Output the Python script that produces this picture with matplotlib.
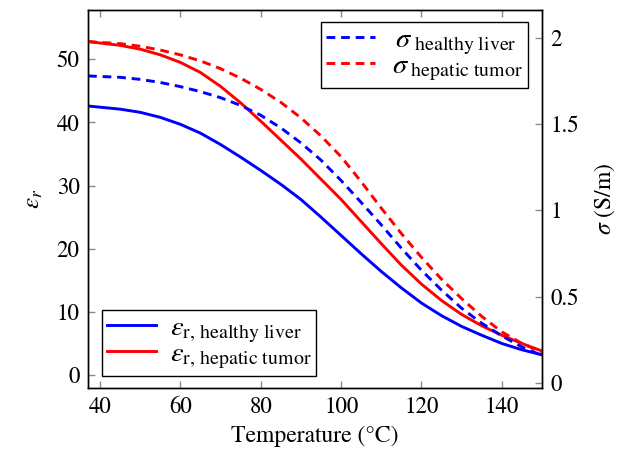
import matplotlib
matplotlib.use("Agg")
import matplotlib.pyplot as plt

plt.rcParams['font.family'] = ['STIXGeneral', 'DejaVu Serif']
plt.rcParams['mathtext.fontset'] = 'stix'

temperature = [37, 45, 50, 55, 60, 65, 70, 75, 80, 85, 90, 95, 100,
               105, 110, 115, 120, 125, 130, 135, 140, 145, 150]

eps_healthy = [42.6, 42.1, 41.6, 40.8, 39.7, 38.3, 36.5, 34.5, 32.4, 30.2, 27.8, 25.0, 22.1,
               19.2, 16.4, 13.8, 11.4, 9.4, 7.7, 6.3, 5.0, 4.0, 3.2]
eps_tumor = [52.8, 52.2, 51.6, 50.7, 49.5, 47.9, 45.7, 43.1, 40.2, 37.2, 34.2, 31.0, 27.8,
             24.3, 20.8, 17.4, 14.4, 11.8, 9.6, 7.8, 6.3, 5.0, 3.8]
sigma_healthy = [1.778, 1.770, 1.758, 1.740, 1.716, 1.687, 1.652, 1.607, 1.550, 1.477, 1.390, 1.290, 1.172,
                 1.045, 0.915, 0.780, 0.652, 0.537, 0.432, 0.345, 0.272, 0.208, 0.158]
sigma_tumor = [1.977, 1.965, 1.950, 1.928, 1.900, 1.865, 1.820, 1.765, 1.700, 1.625, 1.535, 1.430, 1.310,
               1.165, 1.012, 0.865, 0.727, 0.600, 0.488, 0.385, 0.295, 0.228, 0.178]

x_ticks = [40, 60, 80, 100, 120, 140]
eps_ticks = [0, 10, 20, 30, 40, 50]
sigma_ticks = [0, 0.5, 1, 1.5, 2]
sigma_tick_labels = ["0", "0.5", "1", "1.5", "2"]

fig = plt.figure(figsize=(6.26, 4.59), dpi=100)
ax = fig.add_axes([88/626, 1-388/459, (542-88)/626, (388-10)/459])
ax2 = ax.twinx()

blue = '#0000FF'
red = '#FF0000'
lw = 2.1

l1, = ax.plot(temperature, eps_healthy, color=blue, lw=lw,
              label=r'$\varepsilon_{\mathrm{r,\,healthy\ liver}}$')
l2, = ax.plot(temperature, eps_tumor, color=red, lw=lw,
              label=r'$\varepsilon_{\mathrm{r,\,hepatic\ tumor}}$')
l3, = ax2.plot(temperature, sigma_healthy, color=blue, lw=lw, dashes=(3, 2),
               label=r'$\,\sigma_{\ \mathrm{healthy\ liver}}$')
l4, = ax2.plot(temperature, sigma_tumor, color=red, lw=lw, dashes=(3, 2),
               label=r'$\sigma_{\ \mathrm{hepatic\ tumor}}$')

ax.set_xlim(37, 150)
ax.set_ylim(-2.05, 57.8)
ax2.set_ylim(-0.03, 2.16)

ax.set_xticks(x_ticks)
ax.set_yticks(eps_ticks)
ax2.set_yticks(sigma_ticks)
ax2.set_yticklabels(sigma_tick_labels)

fs = 16.5
tick_color = '#8c8c8c'
ax.tick_params(axis='x', direction='in', top=True, bottom=True, length=5, width=1,
               color=tick_color, labelsize=fs, pad=6)
ax.tick_params(axis='y', direction='in', left=True, right=False, length=5, width=1,
               color=tick_color, labelsize=fs, pad=6)
ax2.tick_params(axis='y', direction='in', right=True, length=5, width=1,
                color=tick_color, labelsize=fs, pad=6)

for a in (ax, ax2):
    for s in a.spines.values():
        s.set_linewidth(1.0)
        s.set_color('black')

ax.set_xlabel('Temperature (°C)', fontsize=17, labelpad=6)
ax.set_ylabel(r'$\varepsilon_r$', fontsize=18, labelpad=8)
ax2.set_ylabel(r'$\sigma$ (S/m)', fontsize=17, labelpad=10)

leg_fs = 20.5
leg1 = ax2.legend(handles=[l1, l2], loc='lower left', fontsize=leg_fs,
                  bbox_to_anchor=(14/454, 12/378), fancybox=False, edgecolor='black',
                  framealpha=1, handlelength=1.7, borderaxespad=0, labelspacing=-0.12,
                  handletextpad=0.5, borderpad=0.18)
leg1.get_frame().set_linewidth(1.0)
ax2.add_artist(leg1)
leg2 = ax2.legend(handles=[l3, l4], loc='upper right', fontsize=leg_fs,
                  bbox_to_anchor=(440/454, 366/378), fancybox=False, edgecolor='black',
                  framealpha=1, handlelength=1.7, borderaxespad=0, labelspacing=-0.12,
                  handletextpad=0.6, borderpad=0.18)
leg2.get_frame().set_linewidth(1.0)

fig.savefig('out.png', dpi=100)
